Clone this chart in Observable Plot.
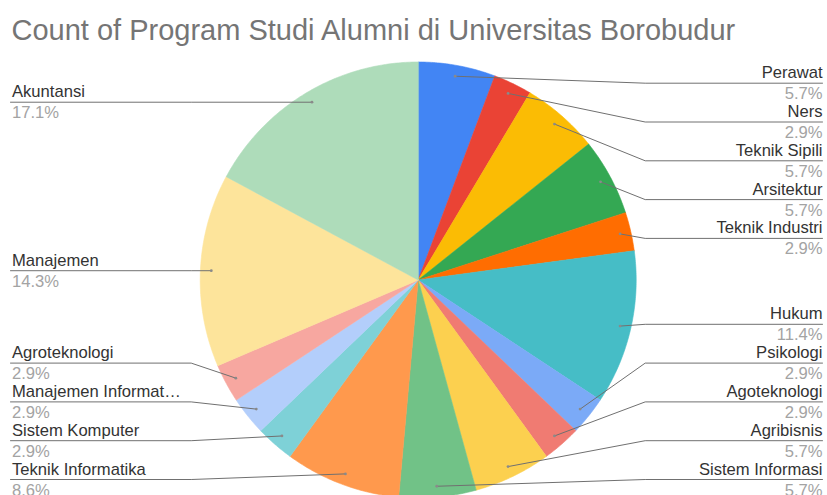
<!DOCTYPE html>
<html>
<head>
<meta charset="utf-8">
<script src="https://cdn.jsdelivr.net/npm/d3@7"></script>
<script src="https://cdn.jsdelivr.net/npm/@observablehq/plot@0.6"></script>
<style>
  html, body { margin: 0; padding: 0; background: #fff; }
  #chart svg { display: block; }
</style>
</head>
<body>
<div id="chart"></div>
<script>
const title = "Count of Program Studi Alumni di Universitas Borobudur";
const categories = ["Perawat", "Ners", "Teknik Sipili", "Arsitektur", "Teknik Industri", "Hukum", "Psikologi", "Agoteknologi", "Agribisnis", "Sistem Informasi", "Teknik Informatika", "Sistem Komputer", "Manajemen Informat…", "Agroteknologi", "Manajemen", "Akuntansi"];
const counts = [2, 1, 2, 2, 1, 4, 1, 1, 2, 2, 3, 1, 1, 1, 5, 6];
const palette = ["#4285F4", "#EA4335", "#FBBC04", "#34A853", "#FF6D01", "#46BDC6", "#7BAAF7", "#F07B72", "#FCD04F", "#71C287", "#FF994D", "#7ED1D7", "#B3CEFB", "#F7A7A0", "#FDE49B", "#AEDCBA"];

// layout constants
const W = 827, H = 495;
const cx = 417.7, cy = 279.5, R = 218;
const anchorR = 0.95 * R;
const rowGap = 38.8, rowMin = 82.7, rowMax = 479;
const rightX = 822, leftX = 10, elbow = R + 9;

const total = d3.sum(counts);
const data = categories.map((name, i) => ({name, count: counts[i], pct: (counts[i] / total * 100).toFixed(1) + "%"}));
const arcs = d3.pie().sort(null).value(d => d.count)(data);

// slice polygons
const slicePts = [];
arcs.forEach(a => {
  slicePts.push({name: a.data.name, x: cx, y: cy});
  const n = Math.max(2, Math.ceil((a.endAngle - a.startAngle) / 0.01));
  for (let k = 0; k <= n; k++) {
    const t = a.startAngle + (a.endAngle - a.startAngle) * k / n;
    slicePts.push({name: a.data.name, x: cx + R * Math.sin(t), y: cy - R * Math.cos(t)});
  }
});

// anchors and label rows
const labels = arcs.map(a => {
  const m = (a.startAngle + a.endAngle) / 2;
  const ax = cx + anchorR * Math.sin(m), ay = cy - anchorR * Math.cos(m);
  return {name: a.data.name, pct: a.data.pct, ax, ay, side: ax >= cx ? "right" : "left"};
});
for (const side of ["right", "left"]) {
  const g = labels.filter(d => d.side === side).sort((a, b) => a.ay - b.ay);
  let prev = -Infinity;
  g.forEach(d => { d.ly = Math.max(d.ay, rowMin, prev + rowGap); prev = d.ly; });
  let next = Infinity;
  for (let i = g.length - 1; i >= 0; i--) { g[i].ly = Math.min(g[i].ly, rowMax, next - rowGap); next = g[i].ly; }
}
const leaderPts = [];
labels.forEach(d => {
  const ox = d.side === "right" ? rightX : leftX;
  const ex = d.side === "right" ? cx + elbow : cx - elbow;
  leaderPts.push({name: d.name, x: ox, y: d.ly});
  if ((d.side === "right" && d.ax < ex) || (d.side === "left" && d.ax > ex)) leaderPts.push({name: d.name, x: ex, y: d.ly});
  leaderPts.push({name: d.name, x: d.ax, y: d.ay});
});
const rightLabels = labels.filter(d => d.side === "right");
const leftLabels = labels.filter(d => d.side === "left");

const font = "'Liberation Sans', Arial, sans-serif";
const nameStyle = {lineAnchor: "bottom", fontSize: 16.6, fill: "#333333", fontFamily: font};
const pctStyle = {lineAnchor: "bottom", fontSize: 16.6, fill: "#a3a3a3", fontFamily: font};
const chart = Plot.plot({
  width: W, height: H,
  margin: 0,
  x: {domain: [0, W], range: [0, W], axis: null},
  y: {domain: [0, H], range: [0, H], axis: null},
  color: {type: "ordinal", domain: categories, range: palette},
  style: {background: "#fff", fontFamily: font},
  marks: [
    Plot.line(slicePts, {x: "x", y: "y", z: "name", fill: "name", stroke: "name", strokeWidth: 0.6, curve: "linear-closed"}),
    Plot.line(leaderPts, {x: "x", y: "y", z: "name", stroke: "#707070", strokeWidth: 1}),
    Plot.dot(labels, {x: "ax", y: "ay", r: 1.4, fill: "#8a8a8a", stroke: null}),
    Plot.text(rightLabels, {x: rightX, y: d => d.ly - 5, text: "name", textAnchor: "end", ...nameStyle}),
    Plot.text(leftLabels, {x: leftX + 1.5, y: d => d.ly - 5, text: "name", textAnchor: "start", ...nameStyle}),
    Plot.text(rightLabels, {x: rightX, y: d => d.ly + 16, text: "pct", textAnchor: "end", ...pctStyle}),
    Plot.text(leftLabels, {x: leftX + 1.5, y: d => d.ly + 16, text: "pct", textAnchor: "start", ...pctStyle}),
    Plot.text([title], {frameAnchor: "top-left", dx: 11, dy: 39, text: d => d, textAnchor: "start", lineAnchor: "bottom",
      fontSize: 29, fill: "#757575", fontFamily: font})
  ]
});
document.getElementById("chart").appendChild(chart);
</script>
</body>
</html>
